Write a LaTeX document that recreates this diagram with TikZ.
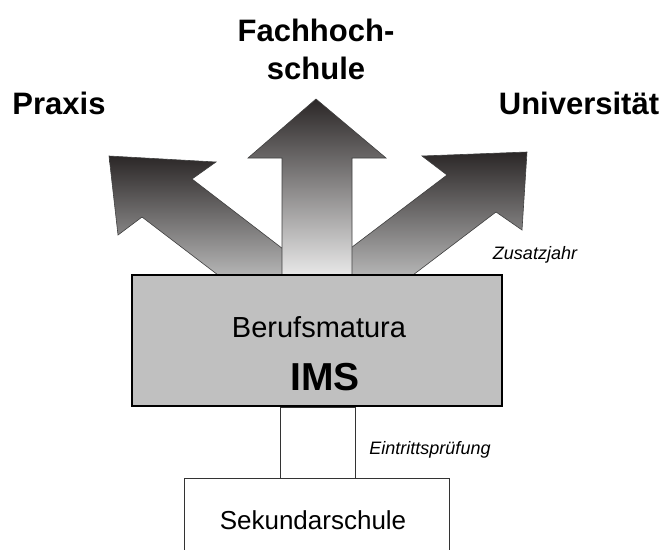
\documentclass[tikz,border=0pt]{standalone}
\usepackage{fontspec}
\setmainfont{Liberation Sans}
\usepackage{xcolor}
\usepackage{tikz}

\definecolor{arrowdark}{HTML}{2B2727}
\definecolor{arrowlight}{HTML}{E8E8E8}
\definecolor{sidelight}{HTML}{B4B4B4}
\definecolor{boxgray}{HTML}{C0C0C0}

\begin{document}
\begin{tikzpicture}[x=1pt,y=-1pt,
  bigarrow/.style={draw=black!75, line width=0.6pt, line join=miter},
  goal/.style={font=\fontsize{31}{38}\selectfont\bfseries, align=center},
  note/.style={font=\fontsize{18}{22}\selectfont\itshape}]
\useasboundingbox (0,0) rectangle (668,549);
\clip (0,0) rectangle (668,549);

% side arrows
\draw[bigarrow, top color=arrowdark, bottom color=sidelight] (218,275) -- (142,217) -- (118,235) -- (109,156) -- (216,162) -- (192,179) -- (300,262) -- (300,275) -- cycle;
\draw[bigarrow, top color=arrowdark, bottom color=sidelight] (413,275) -- (496,212) -- (522,230) -- (527,152) -- (422,156) -- (447,175) -- (335,260) -- (335,275) -- cycle;
% middle arrow
\draw[bigarrow, top color=arrowdark, bottom color=arrowlight] (282,275) -- (282,158) -- (248,158) -- (316,99) -- (386,158) -- (352,158) -- (352,275) -- cycle;

\node (praxis) [goal] at (59,103) {Praxis};
\node (fh) [goal] at (316,49) {Fachhoch-\\schule};
\node (uni) [goal] at (579,103) {Universität};

\node (bm) [rectangle, draw=black, line width=1.6pt, fill=boxgray, minimum width=370pt, minimum height=131pt] at (317,340.5) {};
\node (bmtext) at (319,327) {\fontsize{29}{34}\selectfont Berufsmatura};
\node (ims) at (325,377) {\fontsize{39}{44}\selectfont\bfseries IMS};

\node (sek) [rectangle, draw=black!80, line width=0.6pt, fill=white, minimum width=265pt, minimum height=100pt, anchor=north] at (316.5,478) {};
\node (sektext) at (313,520) {\fontsize{26}{30}\selectfont Sekundarschule};

\draw[draw=black!80, line width=0.6pt] ([xshift=-37pt]bm.south) rectangle ([xshift=38.5pt]sek.north);

\node (zj) [note] at (535,255) {Zusatzjahr};
\node (ep) [note] at (430,450) {Eintrittsprüfung};
\end{tikzpicture}
\end{document}
